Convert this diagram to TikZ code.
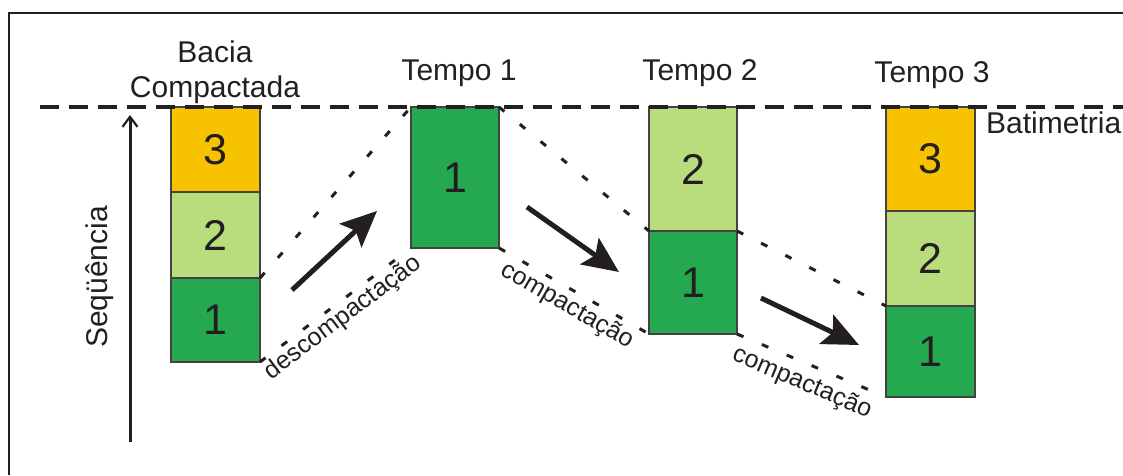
\documentclass[tikz,border=0pt]{standalone}
\usepackage{fontspec}
\setmainfont{Liberation Sans}
\usetikzlibrary{arrows.meta}
\definecolor{lorange}{RGB}{247,195,0}
\definecolor{lgreen}{RGB}{185,221,125}
\definecolor{dgreen}{RGB}{36,168,80}
\definecolor{ink}{RGB}{35,31,32}
\tikzset{
  layer/.style={draw=ink!85, line width=1.6pt, inner sep=0pt, outer sep=0pt,
    minimum width=89pt, anchor=north west, text=ink,
    font=\fontsize{43}{46}\selectfont},
  title/.style={anchor=base, text=ink, inner sep=0pt, font=\fontsize{30}{33}\selectfont},
  rotlabel/.style={text=ink, inner sep=0pt, font=\fontsize{25}{28}\selectfont},
  dotline/.style={ink, line width=3pt, dash pattern=on 7pt off 20pt},
  bigarrow/.style={ink, line width=5pt, -{Stealth[length=36pt, width=32pt, inset=7pt]}},
}
\begin{document}
\begin{tikzpicture}[x=1pt, y=-1pt]
\useasboundingbox (0,0) rectangle (1123,475);
% frame
\coordinate (fA) at (9,475);
\coordinate (fB) at (9,13);
\coordinate (fC) at (1123,13);
\draw[ink, line width=2.5pt] (fA) -- (fB) -- (fC);
% bathymetry line
\coordinate (batL) at (40,107);
\coordinate (batR) at (1123,107);
% Bacia compactada
\node[layer, fill=lorange, minimum height=85pt] (b3) at (171,107) {3};
\node[layer, fill=lgreen, minimum height=86pt] (b2) at (171,192) {2};
\node[layer, fill=dgreen, minimum height=84pt] (b1) at (171,278) {1};
% Tempo 1
\node[layer, fill=dgreen, minimum width=88pt, minimum height=141pt] (t1) at (411,107) {1};
% Tempo 2
\node[layer, fill=lgreen, minimum width=88pt, minimum height=124pt] (u2) at (649,107) {2};
\node[layer, fill=dgreen, minimum width=88pt, minimum height=103pt] (u1) at (649,231) {1};
% Tempo 3
\node[layer, fill=lorange, minimum height=104pt] (v3) at (886,107) {3};
\node[layer, fill=lgreen, minimum height=95pt] (v2) at (886,211) {2};
\node[layer, fill=dgreen, minimum height=91pt] (v1) at (886,306) {1};
\draw[ink, line width=4pt, dash pattern=on 19pt off 10pt] (batL) -- (batR);
% titles
\node[title] (tb1) at (215,62) {Bacia};
\node[title] (tb2) at (215,97) {Compactada};
\node[title] (tt1) at (459,80) {Tempo 1};
\node[title] (tt2) at (700,80) {Tempo 2};
\node[title] (tt3) at (932,82) {Tempo 3};
\node[title, anchor=base west] (bat) at (986,133) {Batimetria};
% sequence axis
\coordinate (sq0) at (130,442);
\coordinate (sq1) at (130,115);
\draw[ink, line width=3pt, -{Straight Barb[length=10pt, width=15pt, line width=2.2pt]}] (sq0) -- (sq1);
\node[rotlabel, rotate=90, font=\fontsize{30}{34}\selectfont] (seq) at (100,277) {Seqüência};
% dotted correlation lines
\draw[dotline] (b1.north east) -- (t1.north west);
\draw[dotline] (b1.south east) -- (t1.south west);
\draw[dotline] (t1.north east) -- (u1.north west);
\draw[dotline] (t1.south east) -- (u1.south west);
\draw[dotline] (u1.north east) -- (v1.north west);
\draw[dotline] (u1.south east) -- (v1.south west);
% arrows
\coordinate (a1s) at (292,290); \coordinate (a1e) at (377,211);
\coordinate (a2s) at (527,207); \coordinate (a2e) at (619,272);
\coordinate (a3s) at (761,298); \coordinate (a3e) at (859,345);
\draw[bigarrow] (a1s) -- (a1e);
\draw[bigarrow] (a2s) -- (a2e);
\draw[bigarrow] (a3s) -- (a3e);
% rotated labels
\node[rotlabel, rotate=37] (ld) at (343,318) {descompactação};
\node[rotlabel, rotate=-30] (lc1) at (567,306) {compactação};
\node[rotlabel, rotate=-23] (lc2) at (802,383) {compactação};
\end{tikzpicture}
\end{document}
